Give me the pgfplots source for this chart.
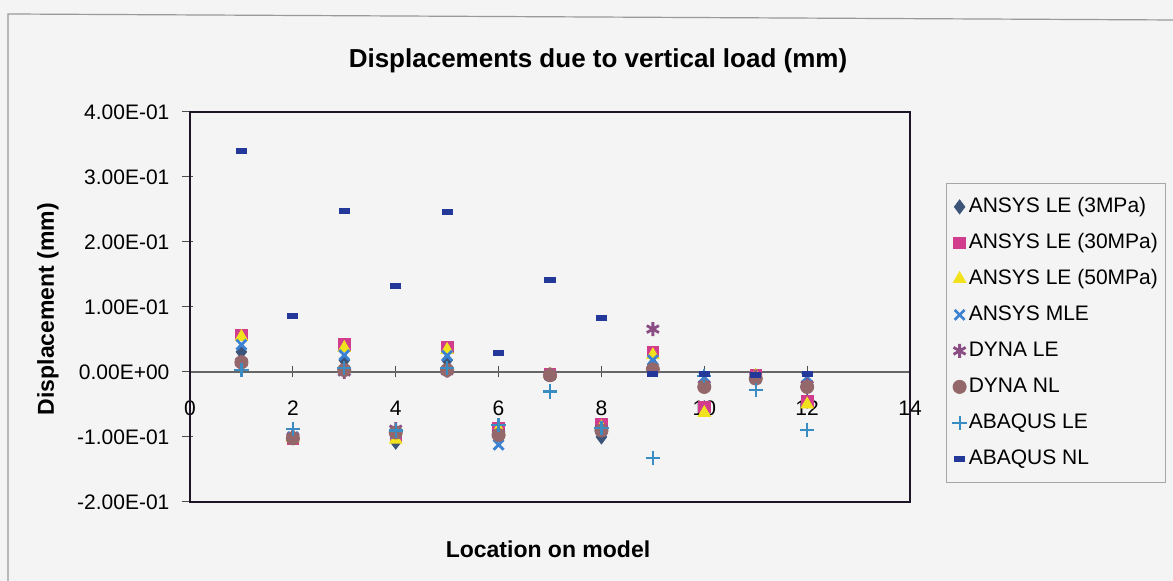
\documentclass[border=0pt]{standalone}
\usepackage{pgfplots}
\pgfplotsset{compat=1.18}
\usepackage{fontspec}
\setmainfont{Liberation Sans}
\definecolor{bgc}{HTML}{F4F4F4}
\definecolor{frame}{HTML}{1E1628}
\definecolor{cDiam}{HTML}{3C5478}
\definecolor{cSq}{HTML}{D23C8C}
\definecolor{cTri}{HTML}{F2E21E}
\definecolor{cX}{HTML}{3C82D2}
\definecolor{cStar}{HTML}{8B4E84}
\definecolor{cCirc}{HTML}{94686A}
\definecolor{cPlus}{HTML}{3C8CC4}
\definecolor{cDash}{HTML}{24389A}
\begin{document}
\begin{tikzpicture}
\useasboundingbox (0,0) rectangle (586.5pt,290.5pt);
\fill[bgc] (0,0) rectangle (586.5pt,290.5pt);
\draw[gray!80, line width=0.6pt] (4pt,0) -- (4pt,283.5pt) -- (586.5pt,280.5pt);
\begin{axis}[
  at={(95pt,39.5pt)}, anchor=south west,
  width=360pt, height=195pt, scale only axis,
  xmin=0, xmax=14, ymin=-0.2, ymax=0.4,
  axis x line=middle, axis y line=left,
  axis line style={-},
  x axis line style={draw=black!60, line width=0.6pt},
  y axis line style={draw=frame, line width=1pt},
  xtick={0,2,4,6,8,10,12,14},
  xticklabels={0,2,4,6,8,10,12,14},
  ytick={-0.2,-0.1,0,0.1,0.2,0.3,0.4},
  yticklabels={-2.00E-01,-1.00E-01,0.00E+00,1.00E-01,2.00E-01,3.00E-01,4.00E-01},
  tick align=center, major tick length=5.5pt,
  x tick style={draw=black!70, line width=0.5pt},
  y tick style={draw=black!70, line width=0.5pt, xshift=-1.5pt},
  hide obscured x ticks=false,
  ticklabel style={font=\fontsize{10.5}{12}\selectfont},
  x tick label style={yshift=-8pt},
  y tick label style={xshift=-4pt},
  legend style={at={(1.05,0.818)}, anchor=north west, draw=gray!70, fill=bgc,
    font=\fontsize{10.5}{12}\selectfont, row sep=6.5pt, inner xsep=3pt, inner ysep=6pt,
    nodes={inner sep=1pt, text height=7.5pt, text depth=2pt}},
  legend cell align=left,
  clip=false,
]
\addplot[only marks, mark=diamond*, mark size=3.5pt, color=cDiam] coordinates {
(1,0.031)(2,-0.100)(3,0.018)(4,-0.108)(5,0.018)(6,-0.092)(7,-0.004)(8,-0.100)(9,0.012)(10,-0.055)(11,-0.006)(12,-0.045)};
\addlegendentry{ANSYS LE (3MPa)}
\addplot[only marks, mark=square*, mark size=2.9pt, color=cSq] coordinates {
(1,0.057)(2,-0.103)(3,0.042)(4,-0.098)(5,0.038)(6,-0.087)(7,-0.003)(8,-0.080)(9,0.031)(10,-0.054)(11,-0.005)(12,-0.045)};
\addlegendentry{ANSYS LE (30MPa)}
\addplot[only marks, mark=triangle*, mark size=3.6pt, color=cTri] coordinates {
(1,0.054)(2,-0.102)(3,0.037)(4,-0.104)(5,0.034)(6,-0.088)(7,-0.004)(8,-0.085)(9,0.026)(10,-0.063)(11,-0.006)(12,-0.050)};
\addlegendentry{ANSYS LE (50MPa)}
\addplot[only marks, mark=x, mark size=3.5pt, color=cX, mark options={line width=1.4pt}] coordinates {
(1,0.042)(2,-0.100)(3,0.026)(4,-0.094)(5,0.025)(6,-0.112)(7,-0.005)(8,-0.090)(9,0.018)(10,-0.008)(11,-0.010)(12,-0.008)};
\addlegendentry{ANSYS MLE}
\addplot[only marks, mark=asterisk, mark size=3.5pt, color=cStar, mark options={line width=1.4pt}] coordinates {
(1,0.015)(2,-0.100)(3,0.000)(4,-0.088)(5,0.002)(6,-0.095)(7,-0.004)(8,-0.088)(9,0.066)(10,-0.020)(11,-0.007)(12,-0.020)};
\addlegendentry{DYNA LE}
\addplot[only marks, mark=*, mark size=3.3pt, color=cCirc] coordinates {
(1,0.015)(2,-0.102)(3,0.003)(4,-0.093)(5,0.003)(6,-0.097)(7,-0.005)(8,-0.090)(9,0.004)(10,-0.023)(11,-0.010)(12,-0.023)};
\addlegendentry{DYNA NL}
\addplot[only marks, mark=+, mark size=3.6pt, color=cPlus, mark options={line width=1.1pt}] coordinates {
(1,0.003)(2,-0.088)(3,0.006)(4,-0.090)(5,0.006)(6,-0.082)(7,-0.030)(8,-0.086)(9,-0.132)(10,-0.006)(11,-0.028)(12,-0.089)};
\addlegendentry{ABAQUS LE}
\addplot[only marks, mark=-, mark size=2.8pt, color=cDash, mark options={line width=3pt}] coordinates {
(1,0.340)(2,0.086)(3,0.248)(4,0.132)(5,0.246)(6,0.029)(7,0.142)(8,0.083)(9,-0.003)(10,-0.003)(11,-0.005)(12,-0.003)};
\addlegendentry{ABAQUS NL}
\draw[frame, line width=1pt] (rel axis cs:0,0) rectangle (rel axis cs:1,1);
\end{axis}
\node[font=\bfseries\fontsize{13}{15}\selectfont] at (299pt,260pt) {Displacements due to vertical load (mm)};
\node[font=\bfseries\fontsize{11.5}{13}\selectfont, rotate=90] at (24pt,136pt) {Displacement (mm)};
\node[font=\bfseries\fontsize{11.5}{13}\selectfont] at (274pt,16pt) {Location on model};
\end{tikzpicture}
\end{document}
